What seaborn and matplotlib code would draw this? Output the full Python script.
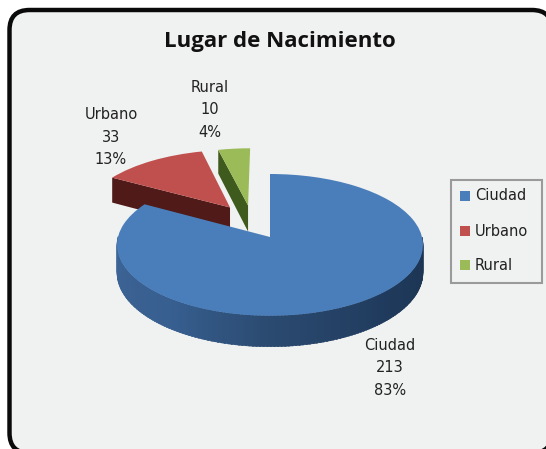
import numpy as np
import matplotlib
matplotlib.use("Agg")
import matplotlib.pyplot as plt
from matplotlib.patches import FancyBboxPatch, Rectangle
from matplotlib.path import Path
from matplotlib.transforms import Transform
from matplotlib.colors import to_rgb
import seaborn as sns

categories = ["Ciudad", "Urbano", "Rural"]
counts = [213, 33, 10]
percents = ["83%", "13%", "4%"]

top_colors = ["#4a7ebb", "#bf504d", "#9bbb59"]
cut_colors = [None, "#4f1a18", "#3f5a1d"]
slice_shift = [(0.0, 0.0), (-0.276, 0.443), (-0.152, 0.4745)]

CX, CY, A, B, K, D = 270.0, 237.0, 152.0, 70.0, 0.111, 27.5

sns.set_theme(style="white")


def project(u, v, z=0.0):
    u, v = np.asarray(u, float), np.asarray(v, float)
    w = 1 + K * v
    return CX + A * u / w, CY - B * v / w + z * D / w


class Perspective(Transform):
    input_dims = output_dims = 2
    is_separable = False
    has_inverse = False

    def transform_non_affine(self, values):
        x, y = project(values[:, 0], values[:, 1])
        return np.column_stack([x, y])

    def transform_path_non_affine(self, path):
        return Path(self.transform_non_affine(path.vertices), path.codes)


fig = plt.figure(figsize=(5.46, 4.49), dpi=100, facecolor="white")
ax = fig.add_axes([0, 0, 1, 1])
wedges, _ = ax.pie(counts, colors=top_colors, startangle=90, counterclock=False,
                   wedgeprops={"linewidth": 0, "zorder": 5})
ax.set_aspect("auto")
ax.set_xlim(0, 546)
ax.set_ylim(449, 0)
ax.axis("off")

ax.add_patch(FancyBboxPatch((9.5, 10), 542.5, 443, boxstyle="round,pad=0,rounding_size=20",
                            fc="#f0f1f1", ec="#0a0a0a", lw=3.2, zorder=0))

fractions = np.cumsum([0] + counts) / sum(counts)
persp = Perspective() + ax.transData
zorders = [5, 3, 3]
for i, w in enumerate(wedges):
    w.set_center(slice_shift[i])
    w.set_transform(persp)
    w.set_zorder(zorders[i] + 0.5)
    w.set_clip_on(False)
    if cut_colors[i]:
        t = 2 * np.pi * fractions[i]
        du, dv = slice_shift[i]
        uu = np.array([du, du + np.sin(t)])
        vv = np.array([dv, dv + np.cos(t)])
        x0, y0 = project(uu, vv, 0)
        x1, y1 = project(uu, vv, 1)
        ax.fill(np.r_[x0, x1[::-1]], np.r_[y0, y1[::-1]], color=cut_colors[i],
                lw=0, zorder=zorders[i])

# rim of the large slice
n = 150
ts = np.linspace(np.pi * 0.5, 2 * np.pi * min(fractions[1], 0.75), n)
shade_t = np.array([0.5, 0.75, 1.0, 1.2, 1.35, 1.5]) * np.pi
shade_c = np.array([to_rgb(c) for c in ["#1b3350", "#1f3a5c", "#2b4a70",
                                        "#375f90", "#3a6192", "#3d6699"]])
for a, b in zip(ts[:-1], ts[1:]):
    uu = np.sin([a, b + 0.01])
    vv = np.cos([a, b + 0.01])
    x0, y0 = project(uu, vv, 0)
    x1, y1 = project(uu, vv, 1)
    col = [np.interp((a + b) / 2, shade_t, shade_c[:, j]) for j in range(3)]
    ax.fill(np.r_[x0, x1[::-1]], np.r_[y0, y1[::-1]], facecolor=col, edgecolor=col,
            lw=0.4, zorder=5)

title_font = "Open Sans"
label_font = "DejaVu Sans"
ax.text(280, 41, "Lugar de Nacimiento", ha="center", va="center", fontsize=16,
        fontweight="bold", family=title_font, color="#111111", zorder=10)

label_xy = [(390, 368), (111, 137), (210, 110)]
for (x, y), c, n_, p in zip(label_xy, categories, counts, percents):
    ax.text(x, y, f"{c}\n{n_}\n{p}", ha="center", va="center", fontsize=10.5,
            family=label_font, color="#222222", linespacing=1.6, zorder=10)

ax.add_patch(Rectangle((450.5, 180), 91, 103, fc="none", ec="#9a9a9a", lw=1.5, zorder=9))
for y, c, col in zip([196, 231, 265], categories, top_colors):
    ax.add_patch(Rectangle((460, y - 5), 10, 10, fc=col, ec="none", zorder=10))
    ax.text(475, y, c, ha="left", va="center", fontsize=10.5, family=label_font,
            color="#222222", zorder=10)

fig.savefig("out.png", dpi=100, facecolor="white")
